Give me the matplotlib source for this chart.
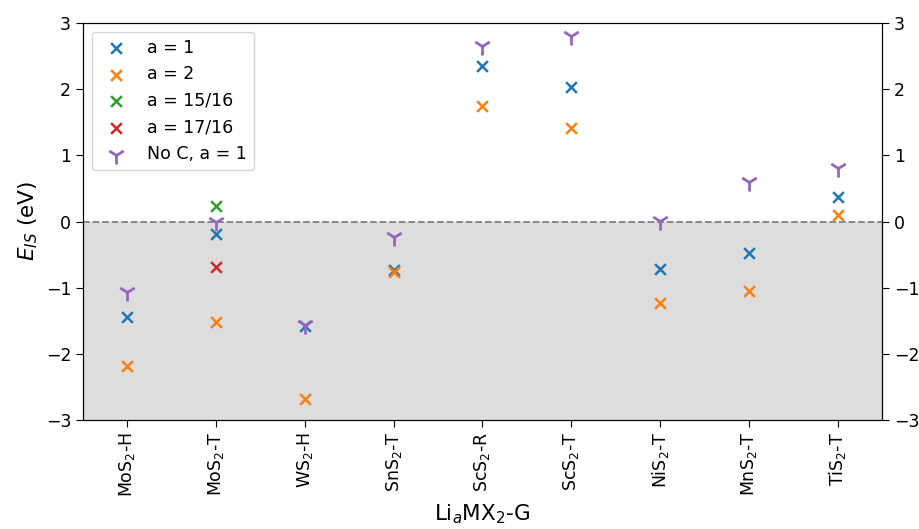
import matplotlib
matplotlib.use("Agg")
import matplotlib.pyplot as plt
import numpy as np

categories = ["MoS$_2$-H", "MoS$_2$-T", "WS$_2$-H", "SnS$_2$-T", "ScS$_2$-R",
              "ScS$_2$-T", "NiS$_2$-T", "MnS$_2$-T", "TiS$_2$-T"]
a1 = [-1.45, -0.19, -1.58, -0.74, 2.35, 2.04, -0.72, -0.48, 0.37]
a2 = [-2.19, -1.52, -2.68, -0.77, 1.74, 1.42, -1.23, -1.05, 0.10]
a15_cat = ["MoS$_2$-T"]
a15 = [0.24]
a17_cat = ["MoS$_2$-T"]
a17 = [-0.69]
noc = [-1.06, -0.01, -1.56, -0.23, 2.65, 2.80, 0.01, 0.59, 0.81]

fig = plt.figure(figsize=(9.19, 5.29), dpi=100)
ax = fig.add_subplot(111)
fig.subplots_adjust(left=0.0903, right=0.9597, top=0.9565, bottom=0.206)

x = np.arange(len(categories))
idx = {c: i for i, c in enumerate(categories)}

ax.axhspan(-3, 0, color="#dddddd", zorder=0)
ax.axhline(0, color="gray", linestyle="--", linewidth=1.3, zorder=1)

s = 60
ax.scatter(x, a1, marker="x", color="tab:blue", s=s, linewidths=1.8, label="a = 1", zorder=3)
ax.scatter(x, a2, marker="x", color="tab:orange", s=s, linewidths=1.8, label="a = 2", zorder=3)
ax.scatter([idx[c] for c in a15_cat], a15, marker="x", color="tab:green", s=s, linewidths=1.8, label="a = 15/16", zorder=3)
ax.scatter([idx[c] for c in a17_cat], a17, marker="x", color="tab:red", s=s, linewidths=1.8, label="a = 17/16", zorder=3)
ax.scatter(x, noc, marker="1", color="tab:purple", s=170, linewidths=2, label="No C, a = 1", zorder=3)

ax.set_xlim(-0.5, len(categories) - 0.5)
ax.set_ylim(-3, 3)
ax.set_xticks(x)
ax.set_xticklabels(categories, rotation=90, fontsize=12.5)
ax.set_yticks(np.arange(-3, 4, 1))
ax.tick_params(axis="both", labelsize=12.5, length=5)
ax.set_xlabel("Li$_a$MX$_2$-G", fontsize=15.5)
ax.set_ylabel("$E_{IS}$ (eV)", fontsize=15.5)

ax2 = ax.twinx()
ax2.set_ylim(-3, 3)
ax2.set_yticks(np.arange(-3, 4, 1))
ax2.tick_params(axis="y", labelsize=12.5, length=5)

ax.legend(loc="upper left", fontsize=12.5)

fig.savefig("out.png", dpi=100)
